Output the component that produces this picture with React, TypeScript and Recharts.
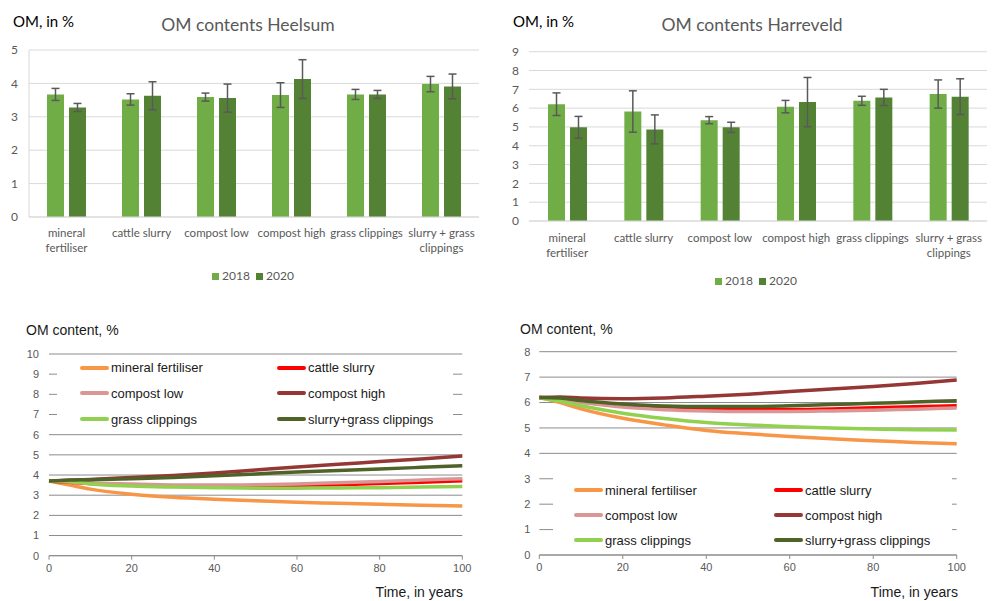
import React from 'react';
import {
  BarChart,
  Bar,
  XAxis,
  YAxis,
  CartesianGrid,
  ErrorBar,
  Legend,
  LineChart,
  Line,
} from 'recharts';

// ---------- Bar charts (measured OM) ----------
const categories = [
  'mineral fertiliser',
  'cattle slurry',
  'compost low',
  'compost high',
  'grass clippings',
  'slurry + grass clippings',
];
const heelsum2018 = [3.67, 3.52, 3.59, 3.65, 3.67, 3.98];
const heelsum2020 = [3.28, 3.63, 3.56, 4.13, 3.67, 3.91];
const heelsumErr2018 = [0.18, 0.17, 0.12, 0.37, 0.15, 0.23];
const heelsumErr2020 = [0.12, 0.42, 0.42, 0.58, 0.12, 0.37];

const harreveld2018 = [6.21, 5.82, 5.36, 6.08, 6.39, 6.75];
const harreveld2020 = [4.98, 4.87, 4.98, 6.32, 6.57, 6.61];
const harreveldErr2018 = [0.6, 1.1, 0.19, 0.33, 0.24, 0.75];
const harreveldErr2020 = [0.58, 0.77, 0.27, 1.31, 0.43, 0.95];

const heelsumTicks = [0, 1, 2, 3, 4, 5];
const harreveldTicks = [0, 1, 2, 3, 4, 5, 6, 7, 8, 9];

// ---------- Line charts (modelled OM) ----------
const years = [0, 5, 10, 20, 30, 40, 50, 60, 70, 80, 90, 100];
const yearTicks = [0, 20, 40, 60, 80, 100];
const heelsumLineTicks = [0, 1, 2, 3, 4, 5, 6, 7, 8, 9, 10];
const harreveldLineTicks = [0, 1, 2, 3, 4, 5, 6, 7, 8];

const seriesNames = [
  'mineral fertiliser',
  'cattle slurry',
  'compost low',
  'compost high',
  'grass clippings',
  'slurry+grass clippings',
];
const seriesColors = ['#F79646', '#FF0000', '#D99694', '#953735', '#92D050', '#4F6228'];

const hMineral = [3.7, 3.5, 3.3, 3.05, 2.9, 2.8, 2.72, 2.65, 2.6, 2.55, 2.5, 2.47];
const hCattle = [3.7, 3.64, 3.58, 3.5, 3.46, 3.44, 3.45, 3.48, 3.52, 3.58, 3.64, 3.72];
const hCompostLow = [3.7, 3.65, 3.6, 3.55, 3.51, 3.5, 3.52, 3.56, 3.62, 3.68, 3.75, 3.82];
const hCompostHigh = [3.7, 3.74, 3.78, 3.88, 3.98, 4.1, 4.25, 4.4, 4.53, 4.67, 4.8, 4.94];
const hGrass = [3.7, 3.68, 3.56, 3.45, 3.4, 3.37, 3.35, 3.35, 3.36, 3.37, 3.4, 3.43];
const hSlurryGrass = [3.7, 3.75, 3.77, 3.82, 3.88, 3.96, 4.05, 4.15, 4.23, 4.3, 4.38, 4.46];

const rMineral = [6.2, 6.0, 5.75, 5.38, 5.12, 4.9, 4.77, 4.66, 4.57, 4.5, 4.43, 4.38];
const rCattle = [6.2, 6.12, 6.02, 5.87, 5.78, 5.75, 5.73, 5.73, 5.75, 5.79, 5.83, 5.87];
const rCompostLow = [6.2, 6.1, 6.0, 5.82, 5.72, 5.67, 5.65, 5.65, 5.67, 5.7, 5.74, 5.78];
const rCompostHigh = [6.2, 6.22, 6.18, 6.15, 6.18, 6.25, 6.33, 6.43, 6.53, 6.63, 6.75, 6.89];
const rGrass = [6.2, 6.05, 5.87, 5.58, 5.37, 5.21, 5.12, 5.05, 5.0, 4.96, 4.93, 4.92];
const rSlurryGrass = [6.2, 6.18, 6.08, 5.94, 5.86, 5.84, 5.84, 5.87, 5.92, 5.97, 6.02, 6.07];

const heelsumBars = categories.map((c, i) => ({
  name: c,
  y2018: heelsum2018[i],
  y2020: heelsum2020[i],
  e2018: heelsumErr2018[i],
  e2020: heelsumErr2020[i],
}));
const harreveldBars = categories.map((c, i) => ({
  name: c,
  y2018: harreveld2018[i],
  y2020: harreveld2020[i],
  e2018: harreveldErr2018[i],
  e2020: harreveldErr2020[i],
}));

const hSeries = [hMineral, hCattle, hCompostLow, hCompostHigh, hGrass, hSlurryGrass];
const rSeries = [rMineral, rCattle, rCompostLow, rCompostHigh, rGrass, rSlurryGrass];
const heelsumLines = years.map((yr, i) => {
  const row: Record<string, number> = { year: yr };
  seriesNames.forEach((n, k) => (row[n] = hSeries[k][i]));
  return row;
});
const harreveldLines = years.map((yr, i) => {
  const row: Record<string, number> = { year: yr };
  seriesNames.forEach((n, k) => (row[n] = rSeries[k][i]));
  return row;
});

const CAL = 'Lato, "Noto Sans", sans-serif';
const ARIAL = '"Liberation Sans", Arial, sans-serif';
const GRAY = '#595959';

const wrapLabels: Record<string, string[]> = {
  'mineral fertiliser': ['mineral', 'fertiliser'],
  'slurry + grass clippings': ['slurry + grass', 'clippings'],
};

const makeCatTick = (off: number) => (props: any) => {
  const { x, y, payload } = props;
  const lines = wrapLabels[payload.value] ?? [payload.value];
  return (
    <g>
      {lines.map((l, i) => (
        <text
          key={i}
          x={x}
          y={y + off + i * 15}
          textAnchor="middle"
          fill={GRAY}
          fontSize={11.5}
          fontFamily={CAL}
        >
          {l}
        </text>
      ))}
    </g>
  );
};

const BarLegend = (props: any) => {
  const { payload } = props;
  const items = [...(payload || [])].sort((a: any, b: any) =>
    String(a.value).localeCompare(String(b.value))
  );
  return (
    <div style={{ display: 'flex', alignItems: 'center', height: 14 }}>
      {items.map((p: any) => (
        <div key={p.value} style={{ display: 'flex', alignItems: 'center', width: 44 }}>
          <div style={{ width: 7, height: 7, background: p.color, marginRight: 3 }} />
          <span style={{ fontFamily: CAL, fontSize: 12, color: GRAY, lineHeight: '14px' }}>
            {p.value}
          </span>
        </div>
      ))}
    </div>
  );
};

const makeLineLegend = (rowH: number, lineX: number, col2: number) => (props: any) => {
  const { payload } = props;
  const items = [...(payload || [])].sort(
    (a: any, b: any) => seriesNames.indexOf(a.value) - seriesNames.indexOf(b.value)
  );
  const rows: any[][] = [];
  for (let i = 0; i < items.length; i += 2) rows.push(items.slice(i, i + 2));
  return (
    <div style={{ position: 'relative', width: '100%', height: '100%', background: '#fff' }}>
      {rows.map((r, ri) =>
        r.map((p: any, ci: number) => (
          <div
            key={p.value}
            style={{
              position: 'absolute',
              top: ri * rowH,
              left: (ci === 0 ? 0 : col2) + lineX,
              height: rowH,
              display: 'flex',
              alignItems: 'center',
              whiteSpace: 'nowrap',
            }}
          >
            <div style={{ width: 29, height: 4, borderRadius: 2, background: p.color, marginRight: 2 }} />
            <span style={{ fontFamily: ARIAL, fontSize: 13, color: '#1a1a1a' }}>{p.value}</span>
          </div>
        ))
      )}
    </div>
  );
};

const Txt = ({ x, y, size, children, color = '#000', family = CAL, w, align = 'left' }: any) => (
  <div
    style={{
      position: 'absolute',
      left: x,
      top: y - size * 0.6,
      width: w,
      textAlign: align,
      fontSize: size,
      fontFamily: family,
      color,
      lineHeight: `${size * 1.2}px`,
      whiteSpace: 'nowrap',
    }}
  >
    {children}
  </div>
);

export default function App() {
  return (
    <div
      style={{
        position: 'absolute',
        left: 0,
        top: 0,
        width: 992,
        height: 601,
        background: '#fff',
        overflow: 'hidden',
      }}
    >
      {/* Heelsum bar chart */}
      <div style={{ position: 'absolute', left: 0, top: 0 }}>
        <BarChart
          width={496}
          height={300}
          data={heelsumBars}
          margin={{ top: 50, right: 17, left: 4, bottom: 33 }}
          barCategoryGap={18}
          barGap={5}
        >
          <CartesianGrid vertical={false} stroke="#d9d9d9" />
          <YAxis
            width={25}
            domain={[0, 5]}
            ticks={heelsumTicks}
            interval={0}
            axisLine={{ stroke: '#d9d9d9' }}
            tickLine={false}
            tickSize={0}
            tickMargin={11}
            tick={{ fill: GRAY, fontSize: 12, fontFamily: CAL }}
          />
          <XAxis
            dataKey="name"
            height={50}
            interval={0}
            axisLine={{ stroke: '#d9d9d9' }}
            tickLine={false}
            tickSize={0}
            tickMargin={0}
            tick={makeCatTick(20)}
          />
          <Legend
            layout="horizontal"
            verticalAlign="middle"
            align="center"
            content={BarLegend}
            wrapperStyle={{ left: 212, top: 269, width: 100, height: 14 }}
          />
          <Bar dataKey="y2018" name="2018" fill="#70AD47" isAnimationActive={false}>
            <ErrorBar dataKey="e2018" width={4} strokeWidth={1.5} stroke="#595959" direction="y" />
          </Bar>
          <Bar dataKey="y2020" name="2020" fill="#548235" isAnimationActive={false}>
            <ErrorBar dataKey="e2020" width={4} strokeWidth={1.5} stroke="#595959" direction="y" />
          </Bar>
        </BarChart>
        <Txt x={13} y={21} size={15}>OM, in %</Txt>
        <Txt x={98} y={24} size={17.5} color={GRAY} w={300} align="center">
          OM contents Heelsum
        </Txt>
      </div>

      {/* Harreveld bar chart */}
      <div style={{ position: 'absolute', left: 496, top: 0 }}>
        <BarChart
          width={496}
          height={300}
          data={harreveldBars}
          margin={{ top: 51.7, right: 5, left: 4, bottom: 29 }}
          barCategoryGap={19}
          barGap={5}
        >
          <CartesianGrid vertical={false} stroke="#d9d9d9" />
          <YAxis
            width={29}
            domain={[0, 9]}
            ticks={harreveldTicks}
            interval={0}
            axisLine={false}
            tickLine={false}
            tickSize={0}
            tickMargin={10}
            tick={{ fill: GRAY, fontSize: 12, fontFamily: CAL }}
          />
          <XAxis
            dataKey="name"
            height={50}
            interval={0}
            axisLine={{ stroke: '#d9d9d9' }}
            tickLine={false}
            tickSize={0}
            tickMargin={0}
            tick={makeCatTick(21)}
          />
          <Legend
            layout="horizontal"
            verticalAlign="middle"
            align="center"
            content={BarLegend}
            wrapperStyle={{ left: 219, top: 274, width: 100, height: 14 }}
          />
          <Bar dataKey="y2018" name="2018" fill="#70AD47" isAnimationActive={false}>
            <ErrorBar dataKey="e2018" width={4} strokeWidth={1.5} stroke="#595959" direction="y" />
          </Bar>
          <Bar dataKey="y2020" name="2020" fill="#548235" isAnimationActive={false}>
            <ErrorBar dataKey="e2020" width={4} strokeWidth={1.5} stroke="#595959" direction="y" />
          </Bar>
        </BarChart>
        <Txt x={17} y={21} size={15}>OM, in %</Txt>
        <Txt x={106} y={24} size={17.5} color={GRAY} w={300} align="center">
          OM contents Harreveld
        </Txt>
      </div>

      {/* Heelsum model lines */}
      <div style={{ position: 'absolute', left: 0, top: 300 }}>
        <LineChart
          width={496}
          height={301}
          data={heelsumLines}
          margin={{ top: 54, right: 33.7, left: 5, bottom: 15.3 }}
        >
          <CartesianGrid vertical={false} stroke="#8c8c8c" />
          <YAxis
            width={44}
            domain={[0, 10]}
            ticks={heelsumLineTicks}
            interval={0}
            axisLine={false}
            tickLine={false}
            tickSize={0}
            tickMargin={10}
            tick={{ fill: GRAY, fontSize: 11, fontFamily: ARIAL }}
          />
          <XAxis
            dataKey="year"
            type="number"
            domain={[0, 100]}
            ticks={yearTicks}
            interval={0}
            height={30}
            axisLine={{ stroke: '#8c8c8c' }}
            tickLine={{ stroke: '#8c8c8c' }}
            tickSize={4}
            tickMargin={4}
            tick={{ fill: GRAY, fontSize: 11, fontFamily: ARIAL }}
          />
          <Legend
            layout="horizontal"
            verticalAlign="middle"
            align="center"
            content={makeLineLegend(25.67, 23, 197)}
            wrapperStyle={{ left: 57, top: 55, width: 396, height: 77 }}
          />
          {seriesNames.map((n, k) => (
            <Line
              key={n}
              dataKey={n}
              name={n}
              type="monotone"
              stroke={seriesColors[k]}
              strokeWidth={3.5}
              dot={false}
              isAnimationActive={false}
            />
          ))}
        </LineChart>
        <Txt x={26} y={30} size={14} family={ARIAL} color="#1a1a1a">OM content, %</Txt>
        <Txt x={363} y={292} size={14} family={ARIAL} color="#1a1a1a" w={100} align="right">
          Time, in years
        </Txt>
      </div>

      {/* Harreveld model lines */}
      <div style={{ position: 'absolute', left: 496, top: 300 }}>
        <LineChart
          width={496}
          height={301}
          data={harreveldLines}
          margin={{ top: 51.7, right: 35.3, left: 5, bottom: 16 }}
        >
          <CartesianGrid vertical={false} stroke="#8c8c8c" />
          <YAxis
            width={38.3}
            domain={[0, 8]}
            ticks={harreveldLineTicks}
            interval={0}
            axisLine={false}
            tickLine={false}
            tickSize={0}
            tickMargin={9}
            tick={{ fill: GRAY, fontSize: 11, fontFamily: ARIAL }}
          />
          <XAxis
            dataKey="year"
            type="number"
            domain={[0, 100]}
            ticks={yearTicks}
            interval={0}
            height={30}
            axisLine={{ stroke: '#8c8c8c' }}
            tickLine={{ stroke: '#8c8c8c' }}
            tickSize={4}
            tickMargin={4}
            tick={{ fill: GRAY, fontSize: 11, fontFamily: ARIAL }}
          />
          <Legend
            layout="horizontal"
            verticalAlign="middle"
            align="center"
            content={makeLineLegend(25, 21, 200)}
            wrapperStyle={{ left: 57, top: 177.5, width: 399, height: 75 }}
          />
          {seriesNames.map((n, k) => (
            <Line
              key={n}
              dataKey={n}
              name={n}
              type="monotone"
              stroke={seriesColors[k]}
              strokeWidth={3.5}
              dot={false}
              isAnimationActive={false}
            />
          ))}
        </LineChart>
        <Txt x={24} y={29} size={14} family={ARIAL} color="#1a1a1a">OM content, %</Txt>
        <Txt x={362} y={292} size={14} family={ARIAL} color="#1a1a1a" w={100} align="right">
          Time, in years
        </Txt>
      </div>
    </div>
  );
}
